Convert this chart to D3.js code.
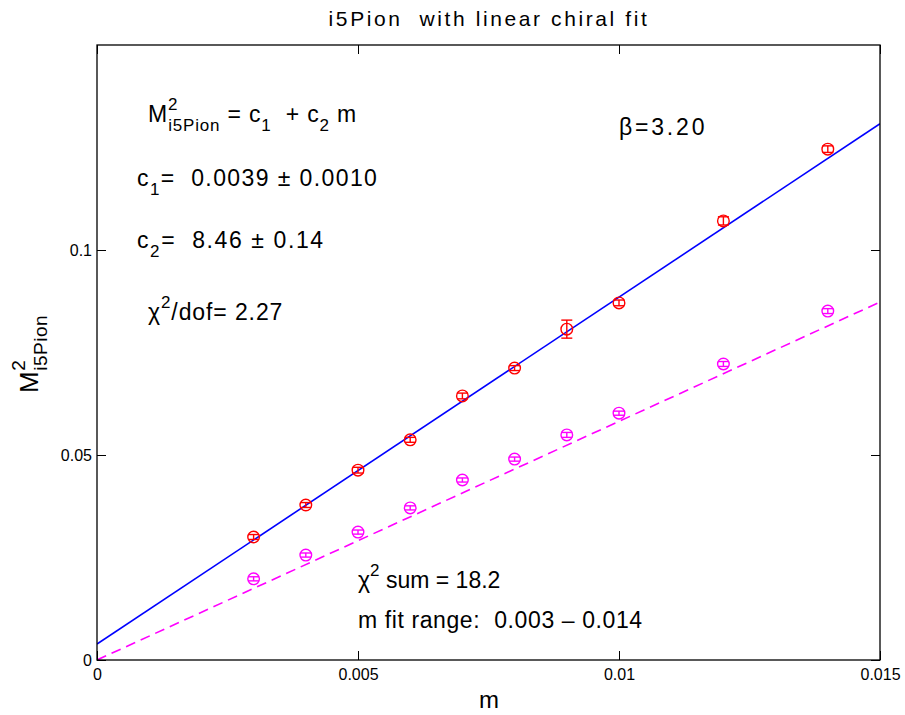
<!DOCTYPE html>
<html><head><meta charset="utf-8">
<script src="https://cdn.jsdelivr.net/npm/d3@7"></script>
<style>body{margin:0;background:#fff}svg{font-family:"Liberation Sans",Arial,Helvetica,sans-serif}text{white-space:pre}</style>
</head><body><svg id="c" width="905" height="715"></svg>
<script>
const mVals = [0.003,0.004,0.005,0.006,0.007,0.008,0.009,0.010,0.012,0.014];
const redY = [0.0300,0.0378,0.0463,0.0537,0.0644,0.0712,0.0807,0.0871,0.1071,0.1246];
const redErr = [0.0006,0.0006,0.0007,0.0006,0.0007,0.0006,0.0022,0.0007,0.0010,0.0008];
const magY = [0.0198,0.0256,0.0312,0.0371,0.0439,0.0490,0.0549,0.0602,0.0722,0.0851];
const magErr = [0.0005,0.0005,0.0005,0.0005,0.0005,0.0005,0.0006,0.0005,0.0006,0.0006];
const fitSolid = {c1:0.0039, c2:8.46};
const fitDash = {c1:0.0, c2:5.82};
const xTicks = [0,0.005,0.01,0.015];
const xTickLabels = ["0","0.005","0.01","0.015"];
const yTicks = [0,0.05,0.1];
const yTickLabels = ["0","0.05","0.1"];

const svg = d3.select("#c");
const L=97,R=880,T=45,B=660;
const x = d3.scaleLinear().domain([0,0.015]).range([L,R]);
const y = d3.scaleLinear().domain([0,0.15]).range([B,T]);

svg.append("clipPath").attr("id","cl").append("rect").attr("x",L).attr("y",T).attr("width",R-L).attr("height",B-T);

const g = svg.append("g").attr("clip-path","url(#cl)");
const xs=[0,0.015];
g.append("line").attr("x1",x(xs[0])).attr("y1",y(fitSolid.c1+fitSolid.c2*xs[0]))
 .attr("x2",x(xs[1])).attr("y2",y(fitSolid.c1+fitSolid.c2*xs[1])).attr("stroke","#0000ff").attr("stroke-width",1.6);
g.append("line").attr("x1",x(xs[0])).attr("y1",y(fitDash.c1+fitDash.c2*xs[0]))
 .attr("x2",x(xs[1])).attr("y2",y(fitDash.c1+fitDash.c2*xs[1])).attr("stroke","#ff00ff").attr("stroke-width",1.6).attr("stroke-dasharray","10,6");

function series(vals, errs, col){
  const gg = svg.append("g");
  mVals.forEach((m,i)=>{
    const cx=x(m), cy=y(vals[i]), t=y(vals[i]+errs[i]), b=y(vals[i]-errs[i]);
    gg.append("line").attr("x1",cx).attr("x2",cx).attr("y1",t).attr("y2",b).attr("stroke",col).attr("stroke-width",1.4);
    [t,b].forEach(v=>gg.append("line").attr("x1",cx-5.5).attr("x2",cx+5.5).attr("y1",v).attr("y2",v).attr("stroke",col).attr("stroke-width",1.4));
    gg.append("circle").attr("cx",cx).attr("cy",cy).attr("r",5.8).attr("fill","none").attr("stroke",col).attr("stroke-width",1.4);
  });
}
series(redY, redErr, "#ff0000");
series(magY, magErr, "#ff00ff");

svg.append("rect").attr("x",L).attr("y",T).attr("width",R-L).attr("height",B-T).attr("fill","none").attr("stroke","#000").attr("stroke-width",1.3);

const xb = svg.append("g").attr("transform",`translate(0,${B})`)
 .call(d3.axisBottom(x).tickValues(xTicks).tickSizeInner(-9).tickSizeOuter(0).tickPadding(9).tickFormat((d,i)=>xTickLabels[i]));
const xt = svg.append("g").attr("transform",`translate(0,${T})`)
 .call(d3.axisTop(x).tickValues(xTicks).tickSizeInner(-9).tickSizeOuter(0).tickFormat(""));
const yl = svg.append("g").attr("transform",`translate(${L},0)`)
 .call(d3.axisLeft(y).tickValues(yTicks).tickSizeInner(-9).tickSizeOuter(0).tickPadding(5).tickFormat((d,i)=>yTickLabels[i]));
const yr = svg.append("g").attr("transform",`translate(${R},0)`)
 .call(d3.axisRight(y).tickValues(yTicks).tickSizeInner(-9).tickSizeOuter(0).tickFormat(""));
[xb,xt,yl,yr].forEach(a=>{a.select(".domain").remove();a.selectAll("line").attr("stroke","#000");
  a.selectAll("text").attr("font-size",16).attr("fill","#000").attr("font-family","'Liberation Sans',Arial,sans-serif");});

svg.append("text").attr("x",489).attr("y",26).attr("text-anchor","middle").attr("font-size",21).attr("letter-spacing",2.6).text("i5Pion  with linear chiral fit");
svg.append("text").attr("x",489).attr("y",708).attr("text-anchor","middle").attr("font-size",24).text("m");
const yt = svg.append("text").attr("transform","translate(38,393) rotate(-90)").attr("font-size",26).attr("letter-spacing",0.5);
yt.append("tspan").text("M");
yt.append("tspan").attr("font-size",19).attr("dy",-13).text("2");
yt.append("tspan").attr("font-size",19).attr("dx",-11).attr("dy",22).text("i5Pion");

function ann(xp,yp){return svg.append("text").attr("x",xp).attr("y",yp).attr("font-size",23).attr("letter-spacing",0.6);}
let a1 = ann(148,122).attr("letter-spacing",0.8);
a1.append("tspan").text("M");
a1.append("tspan").attr("font-size",17).attr("dy",-12).text("2");
a1.append("tspan").attr("font-size",17).attr("dx",-10).attr("dy",21).text("i5Pion");
a1.append("tspan").attr("dy",-9).text(" = c");
a1.append("tspan").attr("font-size",17).attr("dy",9).text("1");
a1.append("tspan").attr("dy",-9).text("  + c");
a1.append("tspan").attr("font-size",17).attr("dy",9).text("2");
a1.append("tspan").attr("dy",-9).text(" m");

let a2 = ann(137,186).attr("letter-spacing",1.4);
a2.append("tspan").text("c");
a2.append("tspan").attr("font-size",17).attr("dy",9).text("1");
a2.append("tspan").attr("dy",-9).text("=  0.0039 ± 0.0010");

let a3 = ann(137,248).attr("letter-spacing",1.6);
a3.append("tspan").text("c");
a3.append("tspan").attr("font-size",17).attr("dy",9).text("2");
a3.append("tspan").attr("dy",-9).text("=  8.46 ± 0.14");

let a4 = ann(148,320).attr("letter-spacing",0.9);
a4.append("tspan").text("χ");
a4.append("tspan").attr("font-size",17).attr("dy",-12).text("2");
a4.append("tspan").attr("dy",12).text("/dof= 2.27");

ann(619,135).attr("letter-spacing",2.8).text("β=3.20");

let a5 = ann(358,588).attr("letter-spacing",0.0);
a5.append("tspan").text("χ");
a5.append("tspan").attr("font-size",17).attr("dy",-12).text("2");
a5.append("tspan").attr("dy",12).text(" sum = 18.2");

ann(358,628).text("m fit range:  0.003 – 0.014");
</script></body></html>
